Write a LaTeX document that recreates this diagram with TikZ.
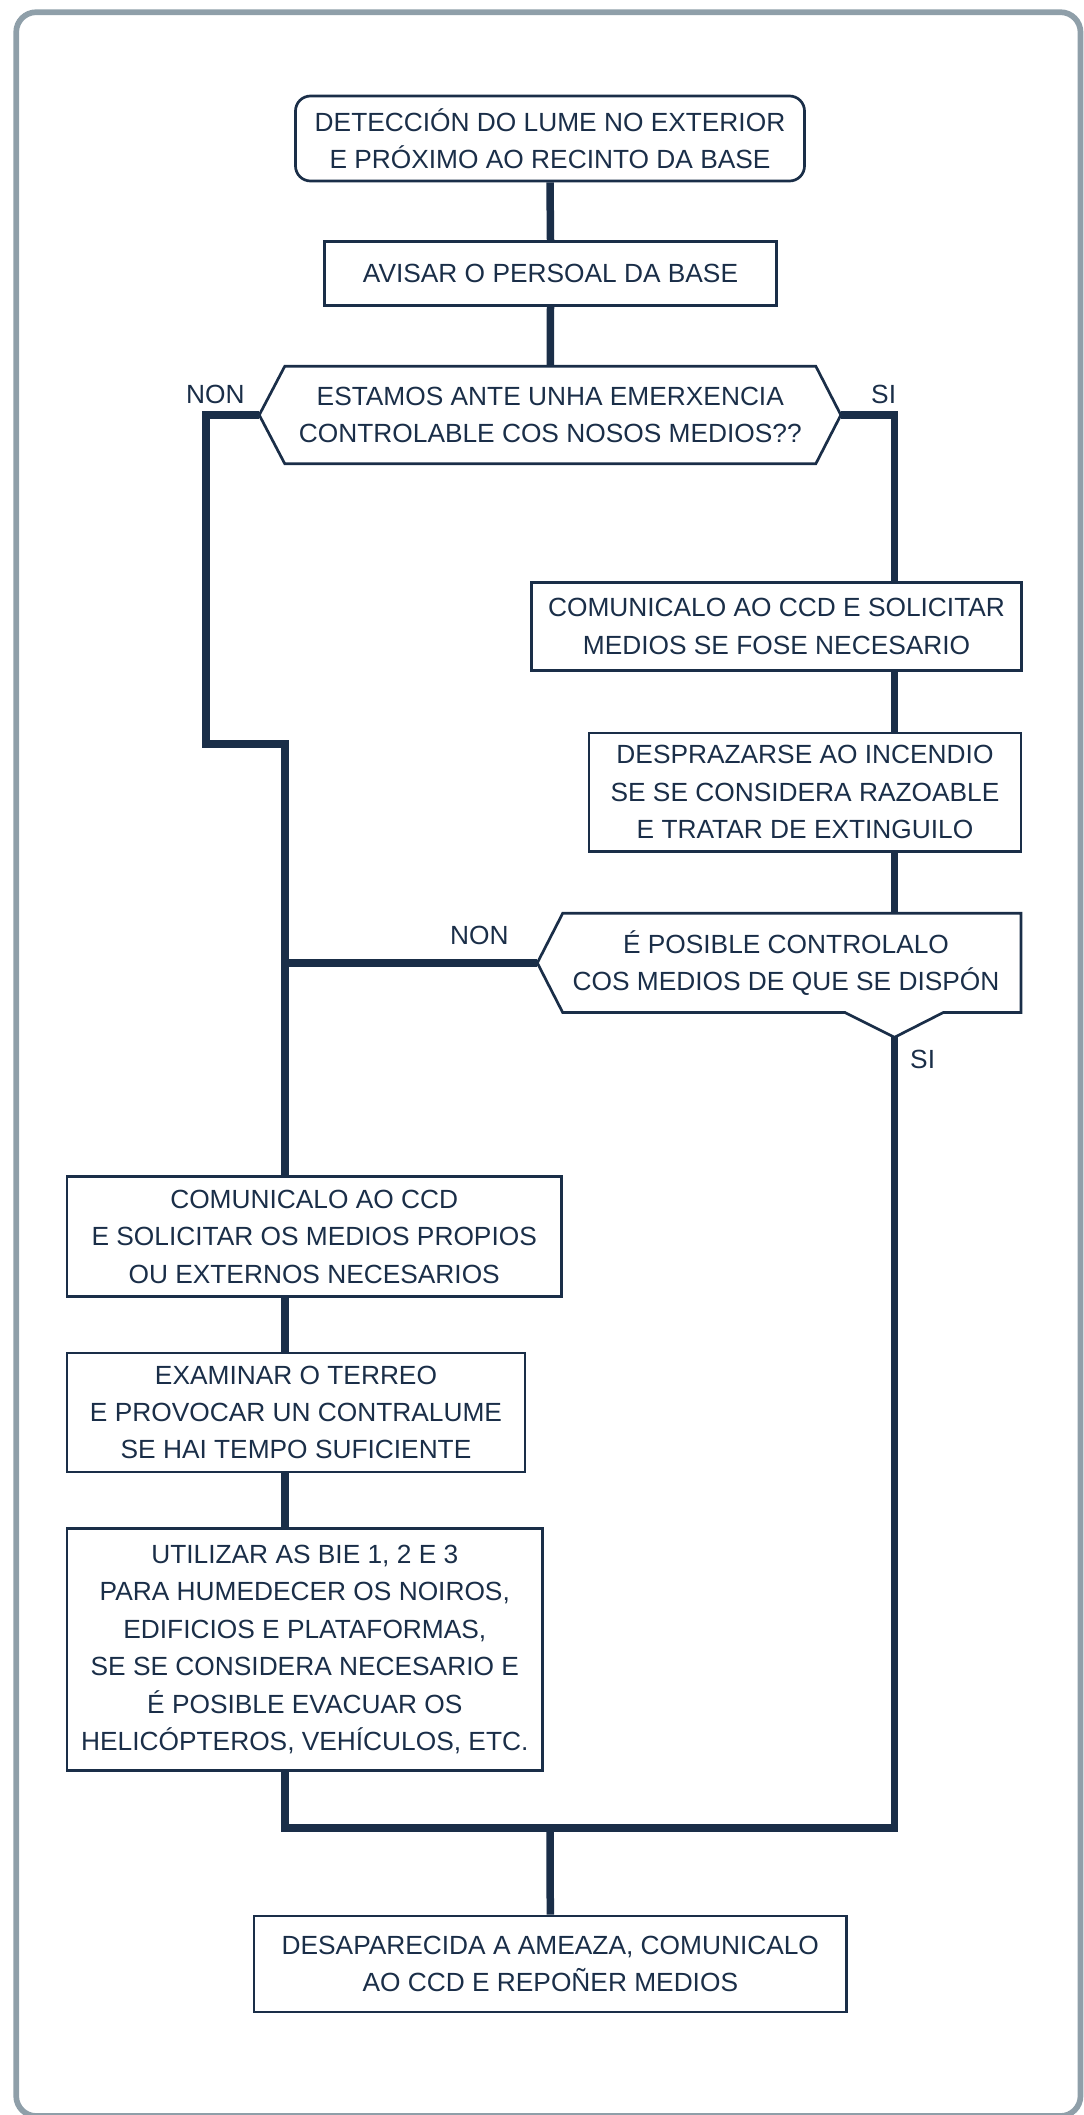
\documentclass[tikz,border=0pt]{standalone}
\usepackage{fontspec}
\setmainfont{Liberation Sans}
\definecolor{navy}{HTML}{1A2E48}
\definecolor{framegrey}{HTML}{8F9FA9}
\tikzset{
  box/.style={rectangle, draw=navy, line width=2.7pt, text=navy, align=center,
    font=\fontsize{26.3}{37.4}\selectfont, inner sep=0pt},
  txt/.style={rectangle, draw=none, text=navy, align=center,
    font=\fontsize{26.3}{37.4}\selectfont, inner sep=0pt},
  shapeline/.style={draw=navy, line width=2.7pt, line join=miter},
  conn/.style={draw=navy, line width=7.5pt, line join=miter},
  lbl/.style={text=navy, font=\fontsize{26.3}{30}\selectfont, inner sep=0pt, anchor=base west}
}
\begin{document}
\begin{tikzpicture}[x=1pt,y=-1pt]
\useasboundingbox (0,0) rectangle (1084,2115);
\clip (0,0) rectangle (1084,2115);
\draw[framegrey, line width=5.7pt, rounded corners=20pt] (16.2,12.2) rectangle (1080.5,2116);

% nodes
\node[box, rounded corners=15pt, minimum width=509pt, minimum height=85pt] (b1) at (550,138.5)
  {DETECCIÓN DO LUME NO EXTERIOR\\E PRÓXIMO AO RECINTO DA BASE};
\node[box, minimum width=452pt, minimum height=64pt] (b2) at (550.5,273.3)
  {AVISAR O PERSOAL DA BASE};
\node[txt, minimum width=530.7pt, minimum height=97pt] (d1) at (550.3,415)
  {ESTAMOS ANTE UNHA EMERXENCIA\\CONTROLABLE COS NOSOS MEDIOS??};
\node[box, minimum width=489.7pt, minimum height=88pt] (b3) at (776.5,626.5)
  {COMUNICALO AO CCD E SOLICITAR\\MEDIOS SE FOSE NECESARIO};
\node[box, minimum width=432pt, minimum height=118.7pt] (b4) at (805,792.3)
  {DESPRAZARSE AO INCENDIO\\SE SE CONSIDERA RAZOABLE\\E TRATAR DE EXTINGUILO};
\node[txt] (d2) at (786,962.9)
  {É POSIBLE CONTROLALO\\COS MEDIOS DE QUE SE DISPÓN};
\node[box, minimum width=494.4pt, minimum height=119.6pt] (b5) at (314.2,1236.6)
  {COMUNICALO AO CCD\\E SOLICITAR OS MEDIOS PROPIOS\\OU EXTERNOS NECESARIOS};
\node[box, minimum width=458pt, minimum height=119pt] (b6) at (296,1412.5)
  {EXAMINAR O TERREO\\E PROVOCAR UN CONTRALUME\\SE HAI TEMPO SUFICIENTE};
\node[box, minimum width=475.7pt, minimum height=242pt] (b7) at (304.8,1649.5)
  {UTILIZAR AS BIE 1, 2 E 3\\PARA HUMEDECER OS NOIROS,\\EDIFICIOS E PLATAFORMAS,\\SE SE CONSIDERA NECESARIO E\\É POSIBLE EVACUAR OS\\HELICÓPTEROS, VEHÍCULOS, ETC.};
\node[box, minimum width=592.7pt, minimum height=96pt] (b8) at (550.3,1964)
  {DESAPARECIDA A AMEAZA, COMUNICALO\\AO CCD E REPOÑER MEDIOS};

% decision outlines
\coordinate (d1W) at ([xshift=-25.5pt]d1.west);
\coordinate (d1E) at ([xshift=25pt]d1.east);
\draw[shapeline] (d1.north west) -- (d1.north east) -- (d1E) -- (d1.south east)
  -- (d1.south west) -- (d1W) -- cycle;

\coordinate (d2N) at (894.5,913.3);
\coordinate (d2W) at (537.3,962.9);
\coordinate (d2S) at (894.5,1037.3);
\draw[shapeline] (562.7,913.3) -- (1021,913.3) -- (1021,1012.5) -- (943.3,1012.5)
  -- (d2S) -- (845,1012.5) -- (562.7,1012.5) -- (d2W) -- cycle;

% helper coordinates
\coordinate (lx) at (285,0);
\coordinate (rx) at (894.5,0);
\coordinate (bendA) at (206,415);
\coordinate (bendB) at (206,744);
\coordinate (bendC) at (285,744);
\coordinate (jn) at (550,1828);

% connectors
\draw[conn] (b1.south) -- (b2.north);
\draw[conn] (b2.south) -- (d1.north);
\draw[conn] (d1W) -- (bendA) -- (bendB) -- (bendC) -- (b5.north -| lx);
\draw[conn] (d1E) -| (b3.north -| rx);
\draw[conn] (b3.south -| rx) -- (b4.north -| rx);
\draw[conn] (b4.south -| rx) -- (d2N);
\draw[conn] (d2W) -- (d2W -| lx);
\draw[conn] (b5.south -| lx) -- (b6.north -| lx);
\draw[conn] (b6.south -| lx) -- (b7.north -| lx);
\draw[conn] (b7.south -| lx) -- (lx |- jn) -- (rx |- jn) -- (d2S);
\draw[conn] (jn) -- (b8.north);

% labels
\node[lbl] (non1) at (186,403) {NON};
\node[lbl] (si1) at (871,403) {SI};
\node[lbl] (non2) at (450,944.3) {NON};
\node[lbl] (si2) at (910,1068) {SI};
\end{tikzpicture}
\end{document}
